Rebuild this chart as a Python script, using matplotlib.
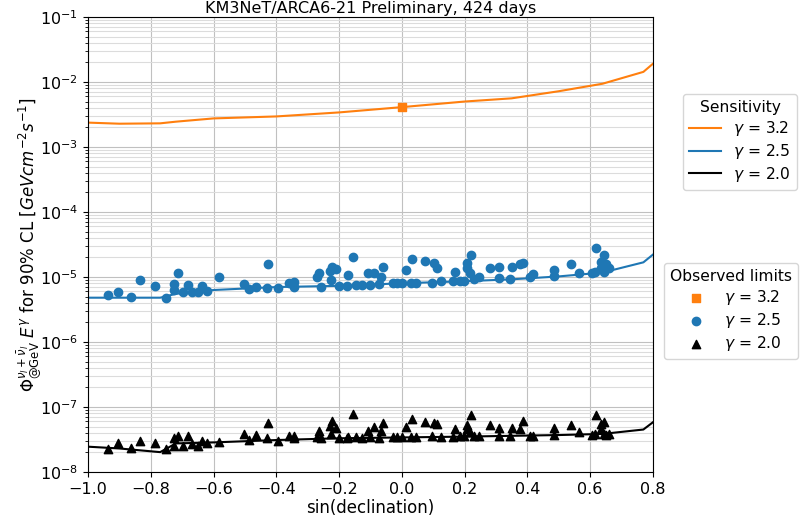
import matplotlib
matplotlib.use("Agg")
import matplotlib.pyplot as plt
import numpy as np

# sensitivity curves (sin(declination) grid)
sens_x = [-1.0, -0.9, -0.77, -0.72, -0.6, -0.4, -0.2, 0.0, 0.2, 0.35, 0.5, 0.64, 0.77, 0.8]
sens_32 = [2.37e-3, 2.28e-3, 2.31e-3, 2.45e-3, 2.75e-3, 2.95e-3, 3.4e-3, 4.1e-3,
           5.0e-3, 5.6e-3, 7.2e-3, 9.4e-3, 1.43e-2, 1.9e-2]
sens_25 = [4.8e-6, 4.8e-6, 4.8e-6, 5.5e-6, 6.3e-6, 7.0e-6, 7.3e-6, 8.0e-6,
           8.6e-6, 9.2e-6, 1.02e-5, 1.17e-5, 1.68e-5, 2.2e-5]
sens_20 = [2.45e-8, 2.3e-8, 2.02e-8, 2.75e-8, 2.85e-8, 3.1e-8, 3.3e-8, 3.4e-8,
           3.5e-8, 3.6e-8, 3.7e-8, 3.85e-8, 4.5e-8, 5.8e-8]

# observed limits per source
src_sindec = [-0.937, -0.903, -0.863, -0.834, -0.786, -0.753, -0.725, -0.725, -0.714, -0.696,
              -0.682, -0.669, -0.650, -0.638, -0.621, -0.581, -0.502, -0.486, -0.466, -0.426,
              -0.429, -0.396, -0.358, -0.342, -0.345, -0.270, -0.265, -0.257, -0.230, -0.223,
              -0.225, -0.209, -0.200, -0.176, -0.172, -0.156, -0.147, -0.127, -0.109, -0.100,
              -0.087, -0.074, -0.065, -0.061, -0.028, -0.015, 0.000, 0.014, 0.032, 0.030,
              0.046, 0.073, 0.096, 0.104, 0.112, 0.125, 0.162, 0.171, 0.187, 0.197,
              0.208, 0.221, 0.208, 0.217, 0.231, 0.245, 0.280, 0.309, 0.309, 0.346,
              0.351, 0.376, 0.387, 0.410, 0.418, 0.484, 0.484, 0.540, 0.566, 0.607,
              0.620, 0.617, 0.635, 0.644, 0.635, 0.646, 0.660, 0.650]
obs_25 = [5.3e-6, 5.9e-6, 5.0e-6, 9.1e-6, 7.3e-6, 4.75e-6, 7.7e-6, 6.3e-6, 1.14e-5, 5.9e-6,
          7.6e-6, 5.9e-6, 5.9e-6, 7.2e-6, 6.0e-6, 9.9e-6, 7.7e-6, 6.6e-6, 6.9e-6, 1.59e-5,
          6.8e-6, 6.8e-6, 8.2e-6, 8.5e-6, 6.9e-6, 1.01e-5, 1.14e-5, 7.1e-6, 1.24e-5, 1.44e-5,
          9.0e-6, 1.34e-5, 7.2e-6, 7.2e-6, 1.07e-5, 2.06e-5, 7.4e-6, 7.4e-6, 1.14e-5, 7.4e-6,
          1.14e-5, 7.8e-6, 9.9e-6, 1.44e-5, 8.0e-6, 8.2e-6, 8.2e-6, 1.28e-5, 1.87e-5, 8.0e-6,
          8.1e-6, 1.76e-5, 8.2e-6, 1.62e-5, 1.39e-5, 8.7e-6, 8.7e-6, 1.21e-5, 8.7e-6, 8.7e-6,
          1.66e-5, 2.2e-5, 1.36e-5, 1.14e-5, 9.2e-6, 9.9e-6, 1.36e-5, 1.41e-5, 9.6e-6, 9.3e-6,
          1.43e-5, 1.57e-5, 1.66e-5, 9.9e-6, 1.11e-5, 1.28e-5, 1.02e-5, 1.57e-5, 1.14e-5, 1.16e-5,
          2.76e-5, 1.18e-5, 1.72e-5, 2.2e-5, 1.36e-5, 1.18e-5, 1.38e-5, 1.6e-5]
obs_20 = [2.23e-8, 2.77e-8, 2.37e-8, 3.03e-8, 2.77e-8, 2.26e-8, 3.37e-8, 2.5e-8, 3.58e-8, 2.55e-8,
          3.58e-8, 2.67e-8, 2.55e-8, 2.96e-8, 2.75e-8, 2.87e-8, 3.8e-8, 3.1e-8, 3.67e-8, 5.74e-8,
          3.3e-8, 3.03e-8, 3.6e-8, 3.58e-8, 3.3e-8, 3.4e-8, 4.33e-8, 3.37e-8, 5.1e-8, 6.1e-8,
          3.8e-8, 4.7e-8, 3.37e-8, 3.37e-8, 3.5e-8, 7.8e-8, 3.4e-8, 3.37e-8, 4.33e-8, 3.4e-8,
          4.98e-8, 3.37e-8, 4.3e-8, 5.6e-8, 3.4e-8, 3.4e-8, 3.4e-8, 5.0e-8, 6.5e-8, 3.4e-8,
          3.4e-8, 5.9e-8, 3.55e-8, 5.7e-8, 5.47e-8, 3.45e-8, 3.45e-8, 4.6e-8, 3.55e-8, 3.55e-8,
          5.28e-8, 7.5e-8, 4.6e-8, 4.1e-8, 3.6e-8, 3.6e-8, 5.28e-8, 4.7e-8, 3.55e-8, 3.55e-8,
          4.7e-8, 4.6e-8, 6.16e-8, 3.6e-8, 3.6e-8, 4.7e-8, 3.65e-8, 5.2e-8, 4.1e-8, 3.65e-8,
          7.5e-8, 3.9e-8, 5.47e-8, 5.95e-8, 4.6e-8, 3.9e-8, 3.8e-8, 3.65e-8]
obs32_x = [0.0]
obs32_y = [4.1e-3]

plt.rcParams['font.size'] = 12

fig = plt.figure(figsize=(8, 5.27), dpi=100)
ax = fig.add_axes([0.11, 0.1044, 0.706, 0.8634])

l1, = ax.plot(sens_x, sens_32, color='tab:orange', label=r'$\gamma$ = 3.2')
l2, = ax.plot(sens_x, sens_25, color='tab:blue', label=r'$\gamma$ = 2.5')
l3, = ax.plot(sens_x, sens_20, color='black', label=r'$\gamma$ = 2.0')

s1 = ax.scatter(obs32_x, obs32_y, marker='s', color='tab:orange', s=36, zorder=3, label=r'$\gamma$ = 3.2')
s2 = ax.scatter(src_sindec, obs_25, marker='o', color='tab:blue', s=36, zorder=3, label=r'$\gamma$ = 2.5')
s3 = ax.scatter(src_sindec, obs_20, marker='^', color='black', s=36, zorder=3, label=r'$\gamma$ = 2.0')

ax.set_yscale('log')
ax.set_xlim(-1.0, 0.8)
ax.set_ylim(1e-8, 1e-1)
ax.grid(True, which='major', color='#c0c0c0')
ax.grid(True, which='minor', color='#dcdcdc')
ax.tick_params(labelsize=11.5)

ax.set_title('KM3NeT/ARCA6-21 Preliminary, 424 days', fontsize=11.5, pad=2.5)
ax.set_xlabel('sin(declination)', labelpad=2)
ax.set_ylabel(r'$\Phi^{\nu_l+\bar{\nu}_l}_{\mathrm{@GeV}}\ E^{\gamma}$ for 90% CL $[GeVcm^{-2}s^{-1}]$',
              labelpad=-2.5)

leg_kw = dict(loc='upper right', fontsize=11.2, title_fontsize=11.2, labelspacing=0.25,
              borderaxespad=0, bbox_transform=fig.transFigure)
leg1 = ax.legend(handles=[l1, l2, l3], title='Sensitivity',
                 bbox_to_anchor=(0.996, 0.8216), **leg_kw)
ax.add_artist(leg1)
ax.legend(handles=[s1, s2, s3], title='Observed limits',
          bbox_to_anchor=(0.9975, 0.501), **leg_kw)

fig.savefig('out.png', dpi=100)
